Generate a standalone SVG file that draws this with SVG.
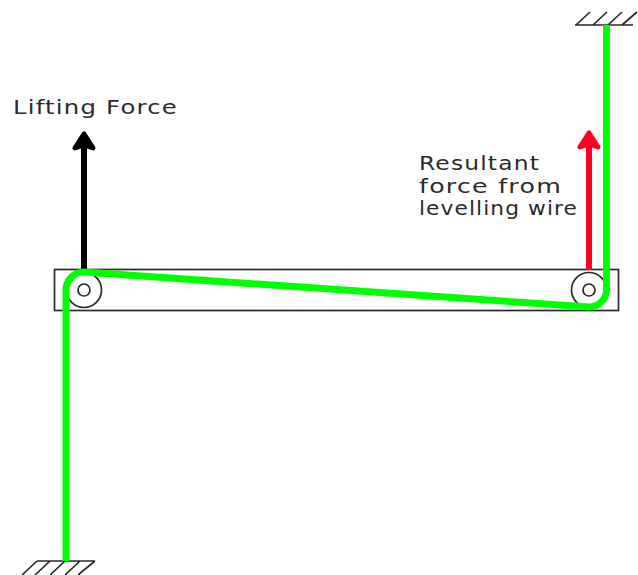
<svg xmlns="http://www.w3.org/2000/svg" width="638" height="575" viewBox="0 0 638 575">
  <style>
    .ln { fill: none; stroke: #2a2a2a; stroke-width: 1.700; }
    .wire { fill: none; stroke: #00ff00; stroke-width: 7; stroke-linejoin: round; }
    .shaft { fill: none; stroke-width: 6; }
    .head { stroke-width: 5; stroke-linejoin: round; }
    text { font-family: "DejaVu Sans", "Liberation Sans", sans-serif; font-size: 20px; letter-spacing: 1px; fill: #2a2a2a; }
  </style>
  <rect width="638" height="575" fill="#fff"/>
  <g id="beam"><rect class="ln" x="54.500" y="269.500" width="564" height="41"/></g>
  <g id="pulley-left"><circle class="ln" cx="84" cy="290" r="17.500"/><circle class="ln" cx="84" cy="290" r="6"/></g>
  <g id="pulley-right"><circle class="ln" cx="589" cy="290" r="17.500"/><circle class="ln" cx="589" cy="290" r="6"/></g>
  <g id="anchor-top"><path class="ln" d="M575 25H633M576 25L590 12M593 25L607 12M608 25L622 12M622 25L637 12"/></g>
  <g id="anchor-bottom"><path class="ln" d="M37 561H95M22 575L37 561M35 575L50 561M50 575L65 561M65 575L80 561M78 575L95 561"/></g>
  <g id="connectors">
    <path class="shaft" stroke="#000" d="M84 270V145"/>
    <path class="head" fill="#000" stroke="#000" d="M84 134L75 148L84 145L93 148Z"/>
    <path class="shaft" stroke="#ff0020" d="M589 270V144"/>
    <path class="head" fill="#ff0020" stroke="#ff0020" d="M589 133L580 147L589 144L598 147Z"/>
    <path class="wire" d="M66 561V290A18 18 0 0 1 84 272L589 307A17.500 17.500 0 0 0 606.500 290V25"/>
  </g>
  <g id="labels">
    <text x="13" y="114" textLength="165" lengthAdjust="spacingAndGlyphs">Lifting Force</text>
    <text x="419" y="170" textLength="121" lengthAdjust="spacingAndGlyphs">Resultant</text>
    <text x="419" y="193" textLength="143" lengthAdjust="spacingAndGlyphs">force from</text>
    <text x="419" y="215" textLength="159" lengthAdjust="spacingAndGlyphs">levelling wire</text>
  </g>
</svg>
